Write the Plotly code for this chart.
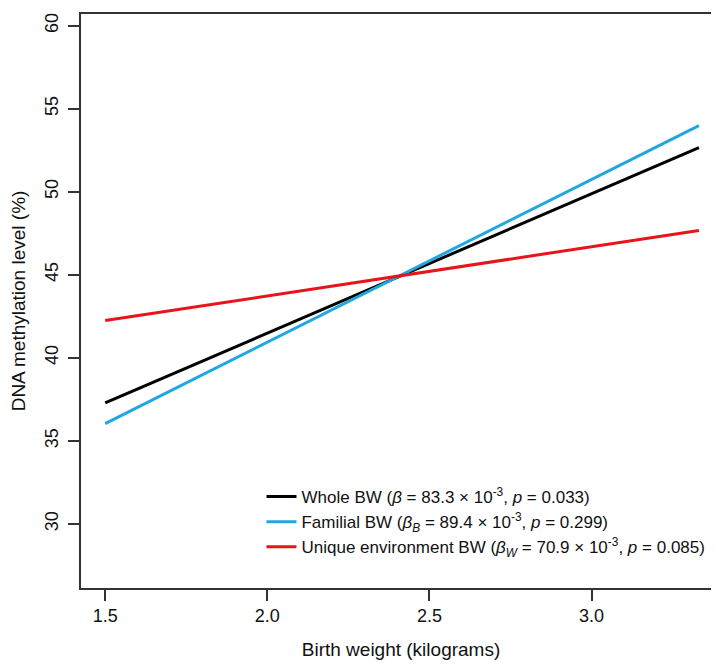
import plotly.graph_objects as go

x_ends = [1.5, 3.331]
whole_bw = [37.28, 52.66]
familial_bw = [36.04, 53.98]
unique_bw = [42.24, 47.67]

names = [
    "Whole BW (<i>β</i> = 83.3 × 10<sup>-3</sup>, <i>p</i> = 0.033)",
    "Familial BW (<i>β</i><sub><i>B</i></sub> = 89.4 × 10<sup>-3</sup>, <i>p</i> = 0.299)",
    "Unique environment BW (<i>β</i><sub><i>W</i></sub> = 70.9 × 10<sup>-3</sup>, <i>p</i> = 0.085)",
]
colors = ["#000000", "#1EA8E0", "#E8141B"]
x_ticks = [1.5, 2.0, 2.5, 3.0]
y_ticks = [30, 35, 40, 45, 50, 55, 60]

fig = go.Figure()
for ys, nm, c in zip([whole_bw, familial_bw, unique_bw], names, colors):
    fig.add_trace(go.Scatter(x=x_ends, y=ys, mode="lines", name=nm,
                             line=dict(color=c, width=3)))

font = "Liberation Sans, Arial, sans-serif"
fig.update_layout(
    width=719, height=666,
    margin=dict(l=72, r=5, t=4, b=86),
    plot_bgcolor="white", paper_bgcolor="white",
    font=dict(family=font, size=18, color="#111"),
    showlegend=True,
    legend=dict(x=0.282, y=0.04, xanchor="left", yanchor="bottom",
                bgcolor="rgba(0,0,0,0)", borderwidth=0,
                font=dict(size=17), tracegroupgap=0),
    xaxis=dict(range=[1.4254, 3.399], tickvals=x_ticks,
               ticktext=[f"{v:.1f}" for v in x_ticks],
               showgrid=False, zeroline=False, showline=True, mirror=True,
               linecolor="#333", linewidth=1.5, ticks="outside", ticklen=11,
               tickcolor="#333", tickwidth=1.5,
               title=dict(text="Birth weight (kilograms)", standoff=17,
                          font=dict(size=19))),
    yaxis=dict(range=[26.14, 60.70], tickvals=y_ticks,
               showgrid=False, zeroline=False, showline=True, mirror=True,
               linecolor="#333", linewidth=1.5, ticks="outside", ticklen=11,
               tickcolor="#333", tickwidth=1.5, tickangle=-90,
               ticklabelstandoff=3,
               title=dict(text="DNA methylation level (%)", standoff=17,
                          font=dict(size=19))),
)
fig.write_html("out.html")
